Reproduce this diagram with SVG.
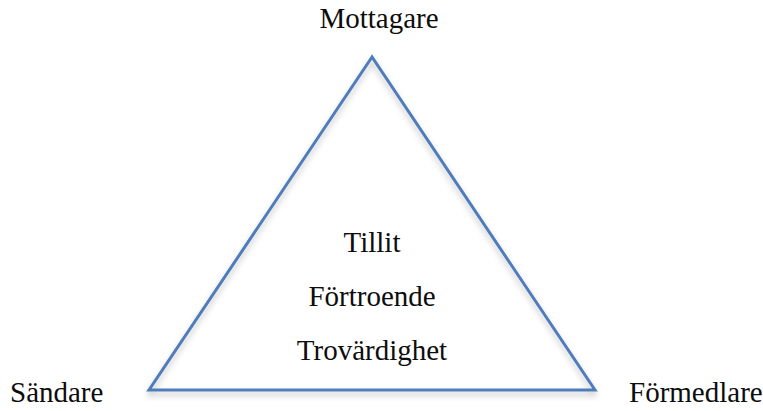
<svg xmlns="http://www.w3.org/2000/svg" width="763" height="411" viewBox="0 0 763 411">
<style>
text{font-family:"Liberation Serif","Times New Roman",serif;font-size:29px;fill:#0d0d0d}
.tri{fill:none;stroke:#4f7cba;stroke-width:3;stroke-linejoin:miter}
</style>
<defs>
<filter id="sh" x="-10%" y="-10%" width="120%" height="130%">
<feGaussianBlur in="SourceAlpha" stdDeviation="3"/>
<feOffset dx="0" dy="4" result="b"/>
<feComponentTransfer><feFuncA type="linear" slope="0.25"/></feComponentTransfer>
<feMerge><feMergeNode/><feMergeNode in="SourceGraphic"/></feMerge>
</filter>
</defs>
<rect width="763" height="411" fill="#fff"/>
<g id="triangle">
<polygon class="tri" points="372,57 149,390 595,390" filter="url(#sh)"/>
</g>
<g id="mottagare"><text x="379" y="28" text-anchor="middle">Mottagare</text></g>
<g id="sandare"><text x="10" y="402">Sändare</text></g>
<g id="formedlare"><text x="629" y="402">Förmedlare</text></g>
<g id="center">
<text x="372" y="252" text-anchor="middle">Tillit</text>
<text x="372" y="306" text-anchor="middle">Förtroende</text>
<text x="372" y="360" text-anchor="middle">Trovärdighet</text>
</g>
</svg>
